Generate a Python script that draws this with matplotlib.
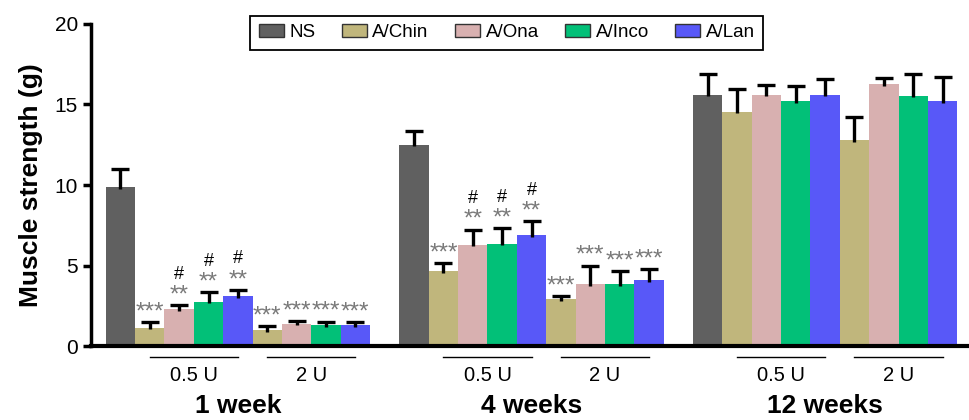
import numpy as np
import matplotlib
matplotlib.use("Agg")
import matplotlib.pyplot as plt
from matplotlib.patches import Patch

plt.rcParams['font.family'] = ['Liberation Sans', 'DejaVu Sans']

groups = ["NS", "A/Chin", "A/Ona", "A/Inco", "A/Lan"]
colors = ["#606060", "#c0b67c", "#d8b0b0", "#02c078", "#5858f8"]
timepoints = ["1 week", "4 weeks", "12 weeks"]
doses = ["0.5 U", "2 U"]

# per timepoint: NS, then 4 treatments at 0.5 U, then 4 treatments at 2 U
means = [
    [9.85, 1.15, 2.3, 2.75, 3.1, 1.0, 1.4, 1.3, 1.3],
    [12.5, 4.65, 6.3, 6.35, 6.9, 2.9, 3.85, 3.85, 4.1],
    [15.6, 14.55, 15.6, 15.2, 15.6, 12.8, 16.25, 15.55, 15.2],
]
errors = [
    [1.15, 0.35, 0.25, 0.6, 0.4, 0.25, 0.17, 0.22, 0.2],
    [0.85, 0.5, 0.93, 0.95, 0.85, 0.23, 1.15, 0.8, 0.7],
    [1.3, 1.4, 0.6, 0.95, 1.0, 1.45, 0.4, 1.35, 1.5],
]
stars = [
    ["", "***", "**", "**", "**", "***", "***", "***", "***"],
    ["", "***", "**", "**", "**", "***", "***", "***", "***"],
    ["", "", "", "", "", "", "", "", ""],
]
hashes = [
    ["", "", "#", "#", "#", "", "", "", ""],
    ["", "", "#", "#", "#", "", "", "", ""],
    ["", "", "", "", "", "", "", "", ""],
]

fig = plt.figure(figsize=(9.69, 4.2), dpi=100)
ax = fig.add_axes([0.094, 0.176, 0.906, 0.767])

bar_colors = [colors[0]] + colors[1:] + colors[1:]
step = 10
for g in range(len(timepoints)):
    x = g * step + np.arange(9)
    m = np.array(means[g])
    e = np.array(errors[g])
    ax.bar(x, m, width=1.0, color=bar_colors, edgecolor="none", zorder=2)
    # one-sided error bars: stem from the bar top up to a single cap
    ax.vlines(x, m - 0.1, m + e, color="black", lw=2.4, zorder=3)
    ax.plot(x, m + e, linestyle="none", marker="_", markersize=13, mew=2.4,
            color="black", zorder=3)
    for i in range(9):
        top = m[i] + e[i]
        if stars[g][i]:
            ax.annotate(stars[g][i], (x[i], top), xytext=(0, -1), textcoords="offset points",
                        ha="center", va="bottom", fontsize=17.5, color="#7a7a7a")
        if hashes[g][i]:
            ax.annotate(hashes[g][i], (x[i], top), xytext=(0, 16), textcoords="offset points",
                        ha="center", va="bottom", fontsize=13, color="black")
    trans = ax.get_xaxis_transform()
    for d, dose in enumerate(doses):
        c = g * step + 2.5 + 4 * d
        ax.plot([c - 1.5, c + 1.5], [-0.034, -0.034], color="black", lw=1.0,
                transform=trans, clip_on=False)
        ax.text(c, -0.063, dose, transform=trans, ha="center", va="top", fontsize=14.5)
    ax.text(g * step + 4, -0.148, timepoints[g], transform=trans, ha="center", va="top",
            fontsize=19, fontweight="bold")

ax.set_xlim(-1.0, 28.9)
ax.set_ylim(0, 20)
ax.set_yticks([0, 5, 10, 15, 20])
ax.set_xticks([])
ax.tick_params(axis="y", labelsize=15, width=2.5, length=6, direction="out")
ax.set_ylabel("Muscle strength (g)", fontsize=19, fontweight="bold", labelpad=8)
for side in ["top", "right"]:
    ax.spines[side].set_visible(False)
ax.spines["left"].set_linewidth(2.5)
ax.spines["bottom"].set_linewidth(3)

handles = [Patch(facecolor=c, edgecolor="#333333", linewidth=1) for c in colors]
leg = fig.legend(handles, groups, loc="center", bbox_to_anchor=(0.523, 0.9226), ncol=5,
                 fontsize=13.5, frameon=True, fancybox=False, framealpha=1,
                 handlelength=1.33, handleheight=0.7, handletextpad=0.3,
                 columnspacing=1.4, borderpad=0.45)
leg.get_frame().set_edgecolor("black")
leg.get_frame().set_linewidth(1.3)

fig.savefig("out.png", dpi=100)
